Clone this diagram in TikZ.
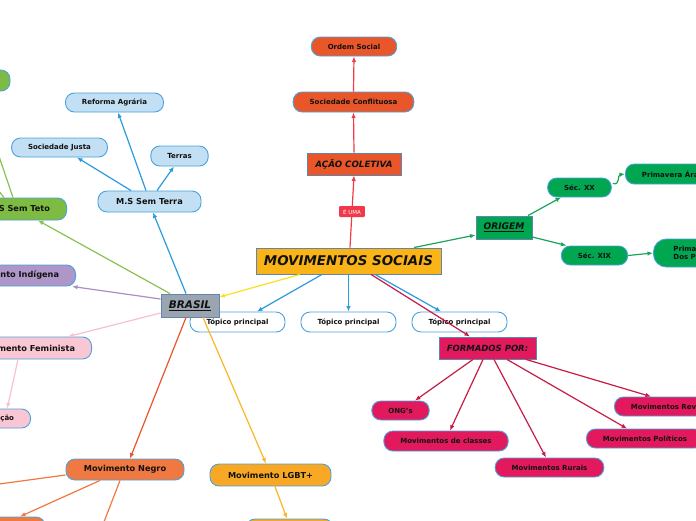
\documentclass[tikz,border=0pt]{standalone}
\usepackage{fontspec}
\setmainfont{DejaVu Sans}
\usetikzlibrary{arrows.meta,calc}
\definecolor{cms}{HTML}{FAB418}
\definecolor{nbord}{HTML}{4AA3DF}
\definecolor{sqbord}{HTML}{5E86B0}
\definecolor{corange}{HTML}{E8562A}
\definecolor{cred}{HTML}{F2394A}
\definecolor{cgreen}{HTML}{00A650}
\definecolor{cgreenl}{HTML}{1AA55A}
\definecolor{clblue}{HTML}{C2DFF3}
\definecolor{cblue}{HTML}{2A9BDF}
\definecolor{cyell}{HTML}{F9E21B}
\definecolor{cgreen2}{HTML}{7DBB42}
\definecolor{cgreen2l}{HTML}{8CC152}
\definecolor{cpurple}{HTML}{AE96C8}
\definecolor{cpurplel}{HTML}{A98FC6}
\definecolor{cpink}{HTML}{F9C6D3}
\definecolor{cpinkl}{HTML}{F8C0D0}
\definecolor{cnegro}{HTML}{F07841}
\definecolor{clgbt}{HTML}{F9A825}
\definecolor{clgbtl}{HTML}{F9B727}
\definecolor{ccrim}{HTML}{E2195C}
\definecolor{ccriml}{HTML}{C81B45}
\definecolor{cgray}{HTML}{9AA5AF}
\definecolor{txt}{HTML}{111111}
\begin{document}
\begin{tikzpicture}[x=1pt,y=-1pt,
  base/.style={draw=nbord, line width=0.9pt, inner ysep=0pt, inner xsep=16.5pt, text=txt, align=center},
  pill/.style={base, rounded corners=9pt},
  sq/.style={base, draw=sqbord, rounded corners=0pt, inner xsep=2pt},
  sm/.style={font=\fontsize{7}{8.5}\selectfont\bfseries},
  md/.style={font=\fontsize{8.2}{9.5}\selectfont\bfseries},
  ttl/.style={font=\fontsize{8.7}{10}\selectfont\bfseries\itshape},
  con/.style={line width=1.2pt, -{Latex[length=5.5pt,width=4.5pt]}},
  elabel/.style={fill=cred, text=white, font=\fontsize{5.5}{6}\selectfont, inner xsep=4pt, inner ysep=0pt, minimum height=11pt, rounded corners=1pt}
]
\useasboundingbox (0,0) rectangle (696,520);
\fill[white] (0,0) rectangle (696,520);
\clip (0,0) rectangle (696,520);

% central part
\node[sq, fill=cms, minimum width=185pt, minimum height=26pt, font=\fontsize{13.4}{15}\selectfont\bfseries\itshape] (ms) at (348.5,261) {MOVIMENTOS SOCIAIS};
\node[sq, fill=corange, minimum width=94pt, minimum height=22pt, ttl] (acao) at (354,164) {AÇÃO COLETIVA};
\node[pill, fill=corange, minimum width=119pt, minimum height=20pt, sm] (socconf) at (353.5,102) {Sociedade Conflituosa};
\node[pill, fill=corange, minimum width=84pt, minimum height=19pt, sm] (ordem) at (354,46.5) {Ordem Social};

% origem
\node[sq, fill=cgreen, minimum width=56pt, minimum height=23pt, font=\fontsize{9.1}{10}\selectfont\bfseries\itshape] (origem) at (504,227.5) {\underline{ORIGEM}};
\node[pill, fill=cgreen, minimum width=61pt, minimum height=19pt, sm] (secxx) at (579.5,187.5) {Séc. XX};
\node[pill, fill=cgreen, minimum width=65pt, minimum height=19pt, sm] (secxix) at (594.5,255.5) {Séc. XIX};
\node[pill, fill=cgreen, anchor=west, minimum height=20pt, sm] (primArabe) at (625,174) {Primavera Árabe};
\node[pill, fill=cgreen, anchor=west, minimum height=28pt, inner xsep=20pt, rounded corners=13pt, sm, align=left] (primPovos) at (653,253) {Primavera\\Dos Povos};

% topicos
\node[pill, fill=white, minimum width=95pt, minimum height=20pt, sm] (top1) at (237.5,322) {Tópico principal};
\node[pill, fill=white, minimum width=95pt, minimum height=20pt, sm] (top2) at (348.5,322) {Tópico principal};
\node[pill, fill=white, minimum width=95pt, minimum height=20pt, sm] (top3) at (459.5,322) {Tópico principal};

% brasil
\node[sq, fill=cgray, minimum width=58pt, minimum height=23pt, font=\fontsize{10.5}{12}\selectfont\bfseries\itshape] (brasil) at (190,305.5) {\underline{BRASIL}};
\node[pill, fill=clblue, minimum width=103pt, minimum height=21pt, md] (msterra) at (149.5,201.5) {M.S Sem Terra};
\node[pill, fill=clblue, minimum width=97pt, minimum height=19pt, sm] (reforma) at (114.5,102.5) {Reforma Agrária};
\node[pill, fill=clblue, minimum width=95pt, minimum height=19pt, sm] (socjusta) at (59.5,147.5) {Sociedade Justa};
\node[pill, fill=clblue, minimum width=57pt, minimum height=20pt, sm] (terras) at (179.5,156) {Terras};
\node[pill, fill=cgreen2, anchor=east, minimum height=22pt, md] (semteto) at (67,209) {M.S Sem Teto};
\node[pill, fill=cgreen2, minimum width=100pt, minimum height=21pt] (topgreen) at (-40,80.5) {};
\node[pill, fill=cpurple, anchor=east, minimum height=21pt, md] (indigena) at (76,275.5) {Movimento Indígena};
\node[pill, fill=cpink, anchor=east, minimum height=22pt, md] (feminista) at (92,348) {Movimento Feminista};
\node[pill, fill=cpink, anchor=east, minimum height=19pt, sm] (femchild) at (31,418.5) {ção};
\node[pill, fill=cnegro, minimum width=118pt, minimum height=21pt, md] (negro) at (125,469.5) {Movimento Negro};
\node[pill, fill=cnegro, minimum width=90pt, minimum height=23pt] (negroChild) at (0,528.5) {};
\node[pill, fill=clgbt, minimum width=121pt, minimum height=22pt, md] (lgbt) at (270.5,475) {Movimento LGBT+};
\node[pill, fill=clgbt, minimum width=87pt, minimum height=22pt] (lgbtChild) at (289.5,530) {};
\coordinate (negroL) at (-60,492);
\coordinate (negroB) at (97,540);
\coordinate (greenOff) at (-40,142);

% formados
\node[sq, fill=ccrim, minimum width=97pt, minimum height=22pt, font=\fontsize{8.5}{10}\selectfont\bfseries\itshape] (formados) at (487.5,348) {FORMADOS POR:};
\node[pill, fill=ccrim, minimum width=55pt, minimum height=19pt, sm] (ongs) at (400.5,410.5) {ONG's};
\node[pill, fill=ccrim, minimum width=122pt, minimum height=20pt, sm] (classes) at (446,441) {Movimentos de classes};
\node[pill, fill=ccrim, minimum width=107pt, minimum height=19pt, sm] (rurais) at (549.5,467.5) {Movimentos Rurais};
\node[pill, fill=ccrim, anchor=west, minimum height=19pt, sm] (politicos) at (586,438.5) {Movimentos Políticos};
\node[pill, fill=ccrim, anchor=west, minimum height=19pt, sm] (revo) at (614,406.5) {Movimentos Revolucionários};

% connectors: top
\draw[con, cred] ($(ms.north)+(1.5,0)$) -- node[pos=0.5, elabel] (euma) {É UMA} (acao.south);
\draw[con, cred] (acao.north) -- (socconf.south);
\draw[con, cred] (socconf.north) -- (ordem.south);

% origem
\draw[con, cgreenl] ($(ms.north)+(65.5,0)$) -- ($(origem.west)+(0,7.5)$);
\draw[con, cgreenl] ($(origem.north)+(24,0)$) -- ($(secxx.south)+(-18.5,0)$);
\draw[con, cgreenl] ($(origem.east)+(0,9.5)$) -- ($(secxix.north)+(-28,0)$);
\draw[con, cgreenl] ($(secxx.east)+(1,-4)$) .. controls +(8,2) and +(-8,1) .. (primArabe.west);
\draw[con, cgreenl] (secxix.east) -- (primPovos.west);

% topicos
\draw[con, cblue] ($(ms.south)+(-26.5,0)$) -- ($(top1.north)+(19.5,0)$);
\draw[con, cblue] (ms.south) -- (top2.north);
\draw[con, cblue] ($(ms.south)+(26.5,0)$) -- ($(top3.north)+(-18.5,0)$);
\draw[con, ccriml] ($(ms.south)+(22.5,0)$) -- ($(formados.north)+(-17.5,0)$);
\draw[con, cyell] ($(ms.south)+(-48.5,0)$) -- ($(brasil.east)+(0,-8.5)$);

% brasil
\draw[con, cblue] ($(brasil.north)+(-4,0)$) -- ($(msterra.south)+(3.5,0)$);
\draw[con, cblue] ($(msterra.north)+(-3.5,0)$) -- ($(reforma.south)+(3.5,0)$);
\draw[con, cblue] ($(msterra.north)+(-18.5,0)$) -- ($(socjusta.south)+(17.5,0)$);
\draw[con, cblue] ($(msterra.north)+(7.5,0)$) -- ($(terras.south)+(-5.5,0)$);
\draw[con, cgreen2l] ($(brasil.north)+(-20,0)$) -- ($(semteto.south east)+(-29,0)$);
\draw[con, cgreen2l] ($(semteto.north east)+(-54,0)$) -- ($(topgreen.south)+(17,0)$);
\draw[con, cgreen2l] ($(semteto.north east)+(-63,0)$) -- (greenOff);
\draw[con, cpurplel] ($(brasil.west)+(0,-6.5)$) -- ($(indigena.south east)+(-4,0)$);
\draw[con, cpinkl] ($(brasil.west)+(0,7.5)$) -- ($(feminista.north east)+(-24,0)$);
\draw[con, cpinkl] ($(feminista.south east)+(-74,0)$) -- ($(femchild.north)+(0,0)$);
\draw[con, corange] ($(brasil.south)+(-4,0)$) -- ($(negro.north)+(5,0)$);
\draw[con, cnegro] ($(negro.west)+(0,5.5)$) -- (negroL);
\draw[con, cnegro] ($(negro.south)+(-25,0)$) -- ($(negroChild.north)+(20,0)$);
\draw[con, cnegro] ($(negro.south)+(-5,0)$) -- (negroB);
\draw[con, clgbtl] ($(brasil.south)+(13,0)$) -- ($(lgbt.north)+(-4.5,0)$);
\draw[con, clgbtl] ($(lgbt.south)+(4.5,0)$) -- ($(lgbtChild.north)+(-2.5,0)$);

% formados
\draw[con, ccriml] ($(formados.south)+(-14.5,0)$) -- ($(ongs.north)+(14.5,0)$);
\draw[con, ccriml] ($(formados.south)+(-4.5,0)$) -- ($(classes.north)+(4,0)$);
\draw[con, ccriml] ($(formados.south)+(6.5,0)$) -- ($(rurais.north)+(-3.5,0)$);
\draw[con, ccriml] ($(formados.south)+(19.5,0)$) -- ($(politicos.north west)+(41,0)$);
\draw[con, ccriml] ($(formados.south)+(38.5,0)$) -- ($(revo.north west)+(37,0)$);
\end{tikzpicture}
\end{document}
